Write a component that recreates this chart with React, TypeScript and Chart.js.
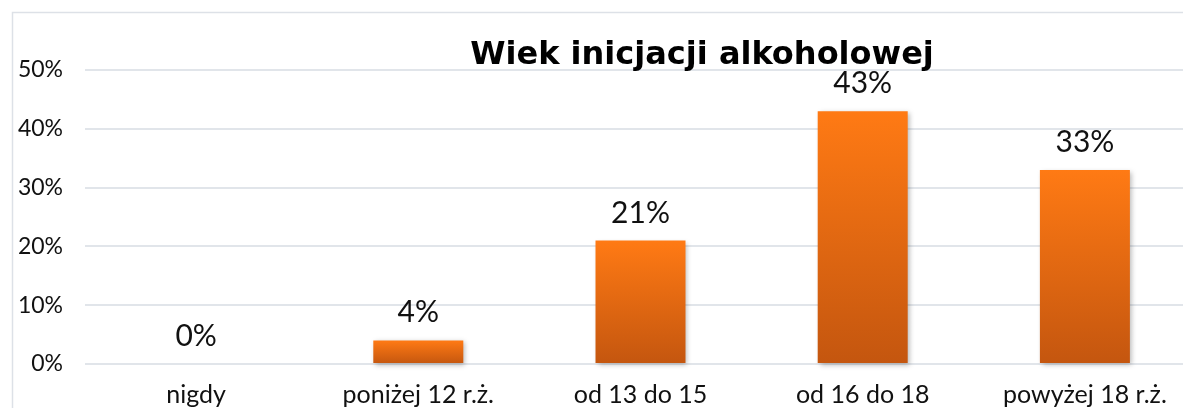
import React, { useEffect, useRef } from "react";
import { Chart, registerables } from "chart.js";

Chart.register(...registerables);

const categories = ["nigdy", "poniżej 12 r.ż.", "od 13 do 15", "od 16 do 18", "powyżej 18 r.ż."];
const values = [0, 4, 21, 43, 33];
const yTickValues = [0, 10, 20, 30, 40, 50];
const chartTitle = "Wiek inicjacji alkoholowej";

const FONT = "Lato, 'Open Sans', sans-serif";
const TITLE_FONT = "'DejaVu Sans', sans-serif";

const framePlugin = {
  id: "frame",
  beforeDraw(chart: any) {
    const ctx = chart.ctx;
    ctx.save();
    ctx.fillStyle = "#ffffff";
    ctx.fillRect(0, 0, chart.width, chart.height);
    ctx.strokeStyle = "#DDE1E7";
    ctx.lineWidth = 1.5;
    ctx.beginPath();
    ctx.moveTo(12.5, chart.height + 5);
    ctx.lineTo(12.5, 12.5);
    ctx.lineTo(chart.width + 5, 12.5);
    ctx.stroke();
    ctx.restore();
  },
};

const shadowPlugin = {
  id: "barShadow",
  beforeDatasetsDraw(chart: any) {
    const ctx = chart.ctx;
    ctx.save();
    ctx.shadowColor = "rgba(0,0,0,0.28)";
    ctx.shadowBlur = 5;
    ctx.shadowOffsetX = 2;
    ctx.shadowOffsetY = 2;
  },
  afterDatasetsDraw(chart: any) {
    chart.ctx.restore();
  },
};

const labelsPlugin = {
  id: "valueLabels",
  afterDatasetsDraw(chart: any) {
    const ctx = chart.ctx;
    const meta = chart.getDatasetMeta(0);
    ctx.save();
    ctx.fillStyle = "#111111";
    ctx.font = `30px ${FONT}`;
    ctx.textAlign = "center";
    ctx.textBaseline = "alphabetic";
    meta.data.forEach((el: any, i: number) => {
      const v = chart.data.datasets[0].data[i];
      ctx.fillText(`${v}%`, el.x, el.y - 18);
    });
    ctx.restore();
  },
};

const titlePlugin = {
  id: "customTitle",
  afterDraw(chart: any) {
    const ctx = chart.ctx;
    ctx.save();
    ctx.fillStyle = "#000000";
    ctx.font = `bold 32px ${TITLE_FONT}`;
    ctx.textAlign = "center";
    ctx.textBaseline = "alphabetic";
    ctx.fillText(chartTitle, 702, 64);
    ctx.restore();
  },
};

export default function App() {
  const ref = useRef<HTMLCanvasElement | null>(null);

  useEffect(() => {
    if (!ref.current) return;
    const chart = new Chart(ref.current, {
      type: "bar",
      data: {
        labels: categories,
        datasets: [
          {
            data: values,
            clip: false as any,
            categoryPercentage: 1,
            barPercentage: 0.405,
            borderWidth: 0,
            backgroundColor: (c: any) => {
              const ch = c.chart;
              const y = ch.scales && ch.scales.y;
              if (!y || c.type !== "data") return "#F07016";
              const top = y.getPixelForValue(c.raw);
              const bottom = y.getPixelForValue(0);
              if (!isFinite(top) || !isFinite(bottom) || Math.abs(bottom - top) < 1) return "#FF7A14";
              const g = ch.ctx.createLinearGradient(0, top, 0, bottom);
              g.addColorStop(0, "#FF7A14");
              g.addColorStop(1, "#C4560F");
              return g;
            },
          },
        ],
      },
      options: {
        responsive: false,
        animation: false,
        layout: { padding: { top: 70, right: 4, left: 0, bottom: 0 } },
        plugins: {
          legend: { display: false },
          title: { display: false },
          tooltip: { enabled: false },
        },
        scales: {
          x: {
            grid: { display: false, drawTicks: false },
            border: { display: false },
            ticks: {
              color: "#111111",
              font: { family: FONT, size: 25 },
              padding: 16,
              maxRotation: 0,
              autoSkip: false,
            },
            afterFit: (s: any) => {
              s.height = 44;
            },
          },
          y: {
            min: 0,
            max: 50,
            afterBuildTicks: (s: any) => {
              s.ticks = yTickValues.map((v) => ({ value: v }));
            },
            grid: { color: "#E1E5EA", lineWidth: 2, drawTicks: false },
            border: { display: false },
            ticks: {
              color: "#111111",
              font: { family: FONT, size: 23 },
              padding: 22,
              callback: (v: any) => `${v}%`,
            },
            afterFit: (s: any) => {
              s.width = 85;
            },
          },
        },
      },
      plugins: [framePlugin, shadowPlugin, labelsPlugin, titlePlugin],
    });
    return () => chart.destroy();
  }, []);

  return (
    <div
      style={{
        position: "fixed",
        left: 0,
        top: 0,
        width: 1183,
        height: 408,
        overflow: "hidden",
        background: "#fff",
      }}
    >
      <canvas ref={ref} width={1200} height={408} style={{ width: 1200, height: 408, display: "block" }} />
    </div>
  );
}
